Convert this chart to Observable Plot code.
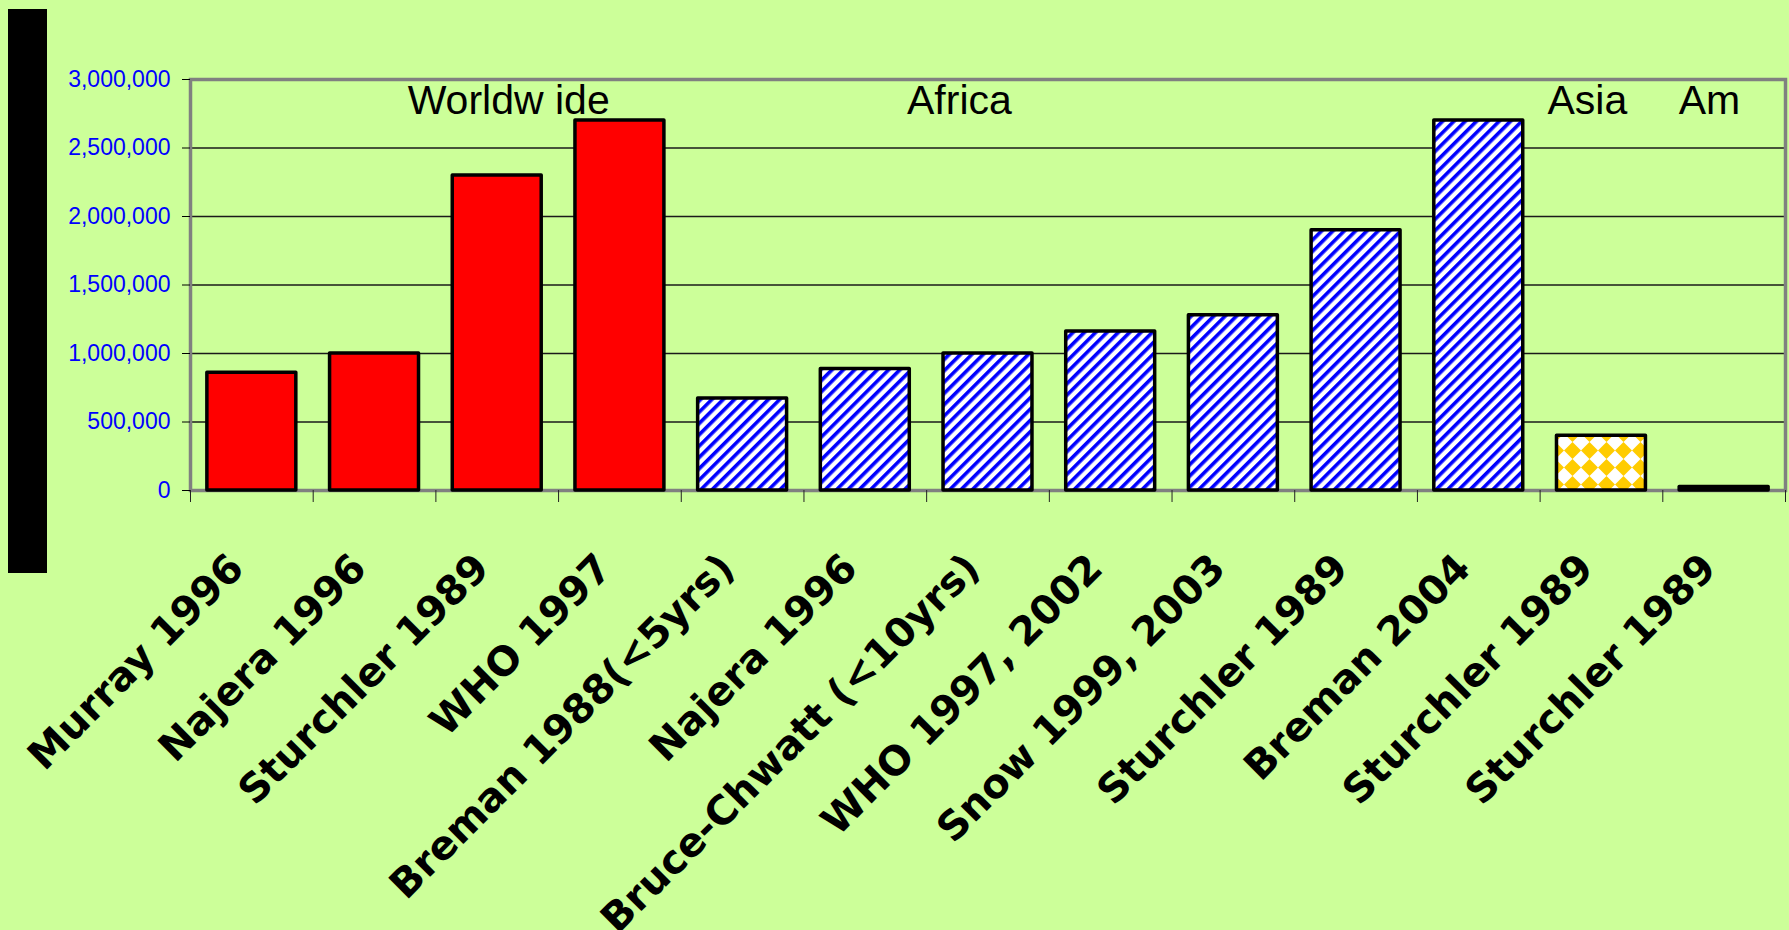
<!DOCTYPE html>
<html>
<head>
<meta charset="utf-8">
<script src="https://cdn.jsdelivr.net/npm/d3@7"></script>
<script src="https://cdn.jsdelivr.net/npm/@observablehq/plot@0.6"></script>
<style>
html, body { margin: 0; padding: 0; background: #CCFF99; overflow: hidden; }
#wrap { position: relative; width: 1789px; height: 930px; }
#blackbar { position: absolute; left: 8px; top: 9px; width: 39px; height: 564px; background: #000; }
#chart { position: absolute; left: 0; top: 0; }
</style>
</head>
<body>
<div id="wrap"><div id="blackbar"></div><div id="chart"></div></div>
<script>
// ---- data ----
const sources = ["Murray 1996", "Najera 1996", "Sturchler 1989", "WHO 1997",
  "Breman 1988(<5yrs)", "Najera 1996", "Bruce-Chwatt (<10yrs)", "WHO 1997, 2002",
  "Snow 1999, 2003", "Sturchler 1989", "Breman 2004", "Sturchler 1989", "Sturchler 1989"];
const deaths = [860000, 1000000, 2300000, 2700000,
  672000, 886000, 1000000, 1160000, 1280000, 1900000, 2700000,
  400000, 25000];
const regions = ["Worldwide", "Worldwide", "Worldwide", "Worldwide",
  "Africa", "Africa", "Africa", "Africa", "Africa", "Africa", "Africa",
  "Asia", "Americas"];
const regionTitles = ["Worldw ide", "Africa", "Asia", "Am"];
const yTicks = [0, 500000, 1000000, 1500000, 2000000, 2500000, 3000000];

// ---- layout / style (not data) ----
const titleAt = [1.77, 5.84, 11.06, 12.13]; // left edge of each region title, in bar slots
const fillOf = { Worldwide: "#FF0000", Africa: "url(#stripes)", Asia: "url(#diamonds)", Americas: "#000000" };
const pad = 0.1375;

const table = sources.map((s, i) => ({ i, source: s, value: deaths[i], region: regions[i] }));
const n = table.length;

const svg = Plot.plot({
  width: 1789,
  height: 930,
  marginLeft: 190,
  marginRight: 4,
  marginTop: 79,
  marginBottom: 440,
  style: { background: "transparent", overflow: "visible" },
  x: { type: "linear", domain: [0, n], label: null },
  y: { domain: [0, 3000000], label: null },
  color: { type: "identity" },
  marks: [
    Plot.gridY(yTicks, { stroke: "#1a1a1a", strokeOpacity: 1, strokeWidth: 1.4 }),
    Plot.frame({ stroke: "#808080", strokeWidth: 3.5 }),
    Plot.rectY(table, {
      x1: d => d.i + pad, x2: d => d.i + 1 - pad, y1: 0, y2: "value",
      fill: d => fillOf[d.region], stroke: "#000", strokeWidth: 3.5, strokeLinejoin: "round"
    }),
    Plot.axisY({ ticks: yTicks, tickSize: 8, tickPadding: 12, tickFormat: d3.format(","),
      fontSize: 23, fontFamily: "Liberation Sans, Arial, sans-serif", fill: "#0000FF", stroke: "#000", label: null }),
    Plot.axisX({ ticks: d3.range(n + 1), tickSize: 12, tickFormat: () => "", stroke: "#222", label: null }),
    Plot.text(table, {
      x: d => d.i + 0.5, frameAnchor: "bottom", text: "source",
      rotate: -45, textAnchor: "end", lineAnchor: "bottom", dx: -6, dy: 80,
      fontSize: 40, fontWeight: "bold", fontFamily: "DejaVu Sans, Verdana, sans-serif", fill: "#000"
    }),
    Plot.text(regionTitles, {
      x: (d, i) => titleAt[i], frameAnchor: "top", text: d => d,
      textAnchor: "start", lineAnchor: "bottom", dy: 34,
      fontSize: 41, fontFamily: "Liberation Sans, Arial, sans-serif", fill: "#000"
    })
  ]
});

const defs = d3.select(svg).insert("defs", ":first-child");
const P = 8, B = 3.6;
const st = defs.append("pattern").attr("id", "stripes").attr("patternUnits", "userSpaceOnUse")
  .attr("width", P).attr("height", P).attr("patternTransform", "rotate(45)");
st.append("rect").attr("width", P).attr("height", P).attr("fill", "#FFFFFF");
st.append("rect").attr("width", B).attr("height", P).attr("fill", "#0000FF");
const D = 17;
const dm = defs.append("pattern").attr("id", "diamonds").attr("patternUnits", "userSpaceOnUse")
  .attr("width", D).attr("height", D);
dm.append("rect").attr("width", D).attr("height", D).attr("fill", "#FFFFFF");
dm.append("path").attr("d", `M${D / 2} 0L${D} ${D / 2}L${D / 2} ${D}L0 ${D / 2}Z`).attr("fill", "#FFCC00");

document.getElementById("chart").appendChild(svg);
</script>
</body>
</html>
